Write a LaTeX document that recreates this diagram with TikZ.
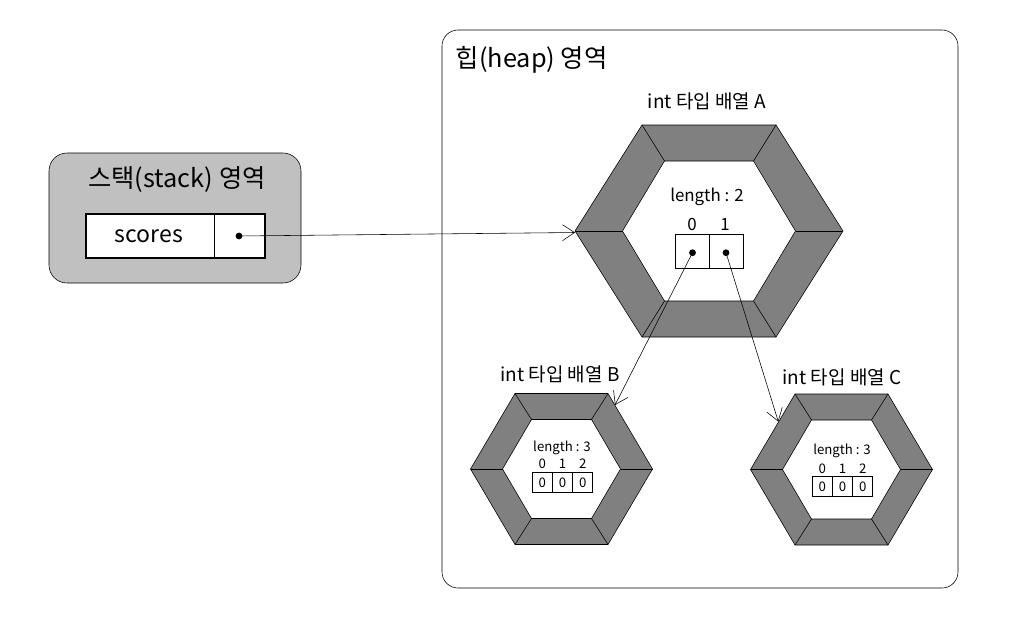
\documentclass[tikz,border=0pt]{standalone}
\usepackage{fontspec}
\setmainfont{Noto Sans CJK KR}
\usetikzlibrary{arrows.meta}

\definecolor{stackgray}{RGB}{192,192,192}
\definecolor{hexgray}{RGB}{128,128,128}

\begin{document}
\begin{tikzpicture}
    [
      x=0.025cm, y=-0.025cm,
      area/.style={font=\fontsize{18}{21}\selectfont},
      arrname/.style={font=\fontsize{13.5}{16}\selectfont},
      bigcell/.style={draw, minimum size=0.85cm, inner sep=0pt},
      smallcell/.style={draw, minimum size=0.5cm, inner sep=0pt, font=\fontsize{9.4}{11}\selectfont},
      bigtext/.style={font=\fontsize{12}{14}\selectfont},
      smalltext/.style={font=\fontsize{9.4}{11}\selectfont},
      dot/.style={circle, fill=black, inner sep=0pt, minimum size=0.17cm},
      ref/.style={-{Straight Barb[length=0.3cm,width=0.4cm]}},
    ]
    \useasboundingbox (0,0) rectangle (1010,618);
    %
    % stack area
    \draw [fill=stackgray, rounded corners=0.45cm] (49,153) rectangle (301,283);
    \node [area] (stacktitle) at (177,180) {스택(stack) 영역};
    \draw [fill=white, line width=2pt] (86,214) rectangle (265,258);
    \draw (214,214) -- (214,258);
    \node [font=\fontsize{16.4}{19}\selectfont] (scores) at (149,236) {scores};
    \node [dot] (sdot) at (239,236) {};

    % heap area
    \draw [rounded corners=0.4cm] (442,30) rectangle (958,588);
    \node [area, anchor=west] (heaptitle) at (451,60) {힙(heap) 영역};

    % hexagons: centre / outer w, t, h / inner w, t, h
    \foreach \cx/\cy/\ow/\ot/\oh/\iw/\it/\ih in {709/231/134/67/106/86.5/44.5/70,
        561.5/469/91/46.5/75.5/59/30/49.5, 841.5/469.5/91/46.5/75.5/59/30/49.5} {
      \fill [hexgray, even odd rule]
        ({\cx-\ow},\cy) -- ({\cx-\ot},{\cy-\oh}) -- ({\cx+\ot},{\cy-\oh}) -- ({\cx+\ow},\cy)
        -- ({\cx+\ot},{\cy+\oh}) -- ({\cx-\ot},{\cy+\oh}) -- cycle
        ({\cx-\iw},\cy) -- ({\cx-\it},{\cy-\ih}) -- ({\cx+\it},{\cy-\ih}) -- ({\cx+\iw},\cy)
        -- ({\cx+\it},{\cy+\ih}) -- ({\cx-\it},{\cy+\ih}) -- cycle;
      \draw ({\cx-\ow},\cy) -- ({\cx-\ot},{\cy-\oh}) -- ({\cx+\ot},{\cy-\oh}) -- ({\cx+\ow},\cy)
        -- ({\cx+\ot},{\cy+\oh}) -- ({\cx-\ot},{\cy+\oh}) -- cycle;
      \draw ({\cx-\iw},\cy) -- ({\cx-\it},{\cy-\ih}) -- ({\cx+\it},{\cy-\ih}) -- ({\cx+\iw},\cy)
        -- ({\cx+\it},{\cy+\ih}) -- ({\cx-\it},{\cy+\ih}) -- cycle;
      % spokes
      \foreach \mx in {1,-1}
        \draw ({\cx+\mx*\ow},\cy) -- ({\cx+\mx*\iw},\cy);
      \foreach \mx/\my in {1/1, -1/1, 1/-1, -1/-1}
        \draw ({\cx+\mx*\ot},{\cy+\my*\oh}) -- ({\cx+\mx*\it},{\cy+\my*\ih});
    }

    % array A
    \node [arrname] (nameA) at (707,101) {int 타입 배열 A};
    \node [bigtext] (lenA) at (707,197) {length : 2};
    \node [bigtext] (idxA0) at (692,224) {0};
    \node [bigtext] (idxA1) at (725,224) {1};
    \node [bigcell] (a0) at (692.5,251.3) {};
    \node [bigcell] (a1) at (726.5,251.3) {};
    \node [dot] (adot0) at (692.5,252.7) {};
    \node [dot] (adot1) at (726,252.7) {};

    % array B
    \node [arrname] (nameB) at (560,374) {int 타입 배열 B};
    \node [smalltext] (lenB) at (562,447.7) {length : 3};
    \foreach \i/\x in {0/542.3, 1/562.5, 2/582.7} {
      \node [smalltext] (idxB\i) at (\x,464) {\i};
      \node [smallcell] (b\i) at (\x,482.7) {0};
    }

    % array C
    \node [arrname] (nameC) at (842,377) {int 타입 배열 C};
    \node [smalltext] (lenC) at (842,451) {length : 3};
    \foreach \i/\x in {0/822.3, 1/842.5, 2/862.7} {
      \node [smalltext] (idxC\i) at (\x,468.3) {\i};
      \node [smallcell] (c\i) at (\x,486.3) {0};
    }

    % references
    \coordinate (hexAin) at (575,232.5);
    \coordinate (hexBin) at (615,405);
    \coordinate (hexCin) at (778.3,421.7);
    \draw [ref] (sdot.center) -- (hexAin);
    \draw [ref] (adot0.center) -- (hexBin);
    \draw [ref] (adot1.center) -- (hexCin);
  \end{tikzpicture}
\end{document}
